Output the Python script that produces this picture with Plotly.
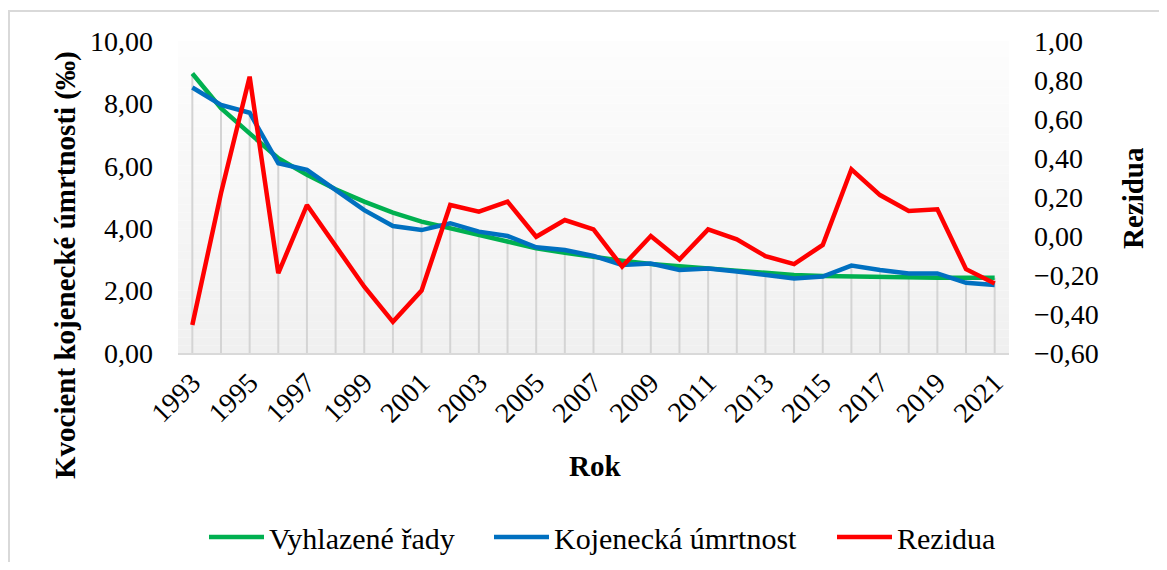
import plotly.graph_objects as go

years = list(range(1993, 2022))
vyhlazene = [8.96, 7.85, 7.04, 6.24, 5.71, 5.25, 4.85, 4.50, 4.21, 4.00, 3.78, 3.57, 3.36, 3.21,
             3.07, 2.96, 2.85, 2.77, 2.71, 2.64, 2.57, 2.50, 2.47, 2.45, 2.43, 2.41, 2.41, 2.41, 2.41]
kojenecka = [8.51, 7.95, 7.70, 6.08, 5.87, 5.22, 4.58, 4.07, 3.94, 4.16, 3.89, 3.75, 3.39, 3.30,
             3.11, 2.82, 2.87, 2.66, 2.71, 2.61, 2.50, 2.39, 2.45, 2.80, 2.66, 2.55, 2.55, 2.25, 2.18]
rezidua = [-0.456, 0.219, 0.817, -0.191, 0.159, -0.046, -0.26, -0.44, -0.28, 0.159, 0.125, 0.176,
           -0.004, 0.082, 0.034, -0.157, 0.0, -0.12, 0.034, -0.017, -0.103, -0.144, -0.046, 0.342,
           0.21, 0.128, 0.137, -0.17, -0.243]
tick_years = list(range(1993, 2022, 2))
tick_labels = [str(y) for y in tick_years]

FONT = "Liberation Serif"
FS = 28
OFF = 8  # page body margin
W, H = 1167 - 2 * OFF, 570 - 2 * OFF
L = 178 - OFF
T = 41 - OFF
R = W - (1009 - OFF)
B = H - (353 - OFF)
PW = W - L - R
PH = H - T - B


def px_x(p):
    return (p - OFF - L) / PW


def px_y(p):
    return (H - B - (p - OFF)) / PH


fig = go.Figure()

# drop lines (from axis up to highest primary-axis series)
dx, dy = [], []
for yr, a, b in zip(years, vyhlazene, kojenecka):
    dx += [yr, yr, None]
    dy += [0, max(a, b), None]
fig.add_trace(go.Scatter(x=dx, y=dy, mode="lines", line=dict(color="#d4d4d4", width=2),
                         showlegend=False, hoverinfo="skip"))

fig.add_trace(go.Scatter(x=years, y=vyhlazene, mode="lines", name="Vyhlazené řady",
                         line=dict(color="#00B050", width=4.5), legend="legend"))
fig.add_trace(go.Scatter(x=years, y=kojenecka, mode="lines", name="Kojenecká úmrtnost",
                         line=dict(color="#0070C0", width=4.5), legend="legend2"))
fig.add_trace(go.Scatter(x=years, y=rezidua, mode="lines", name="Rezidua", yaxis="y2",
                         line=dict(color="#FF0000", width=4.5), legend="legend3"))

# gradient plot background
shapes = []
n = 40
for i in range(n):
    t = i / (n - 1)
    c = round(240 + (253 - 240) * t)
    shapes.append(dict(type="rect", xref="x domain", yref="y domain", x0=0, x1=1,
                       y0=i / n, y1=(i + 1) / n, fillcolor=f"rgb({c},{c},{c})",
                       line=dict(width=0), layer="below"))
# chart border
shapes.append(dict(type="rect", xref="paper", yref="paper", x0=px_x(9), x1=px_x(1180),
                   y0=px_y(585), y1=px_y(11),
                   line=dict(color="#d9d9d9", width=2), fillcolor="rgba(0,0,0,0)", layer="below"))

leg_common = dict(orientation="h", yanchor="middle", xanchor="left", y=px_y(537),
                  font=dict(family=FONT, size=30), bgcolor="rgba(0,0,0,0)", itemwidth=55)

fig.update_layout(
    width=W, height=H,
    margin=dict(l=L, r=R, t=T, b=B, autoexpand=False),
    paper_bgcolor="white", plot_bgcolor="white",
    separators=", ",
    font=dict(family=FONT, size=FS, color="black"),
    shapes=shapes,
    xaxis=dict(range=[1992.5, 2021.5], tickvals=tick_years, ticktext=tick_labels, tickangle=-45,
               showgrid=False, zeroline=False, showline=True, linecolor="#d9d9d9", linewidth=2,
               ticks="", automargin=False, tickfont=dict(family=FONT, size=FS)),
    yaxis=dict(range=[0, 10], dtick=2, tickformat=".2f", showgrid=False, zeroline=False,
               showline=False, ticks="", ticklabelstandoff=24, automargin=False,
               tickfont=dict(family=FONT, size=FS)),
    yaxis2=dict(range=[-0.6, 1.0], dtick=0.2, tickformat=".2f", overlaying="y", side="right",
                showgrid=False, zeroline=False, showline=False, ticks="", ticklabelstandoff=24,
                automargin=False, tickfont=dict(family=FONT, size=FS)),
    legend=dict(x=px_x(204), **leg_common),
    legend2=dict(x=px_x(489), **leg_common),
    legend3=dict(x=px_x(832), **leg_common),
    annotations=[
        dict(text="<b>Kvocient kojenecké úmrtnosti (‰)</b>", xref="paper", yref="paper",
             x=px_x(65), y=px_y(265), textangle=-90, showarrow=False,
             xanchor="center", yanchor="middle", font=dict(family=FONT, size=29)),
        dict(text="<b>Rezidua</b>", xref="paper", yref="paper",
             x=px_x(1133), y=px_y(198), textangle=-90, showarrow=False,
             xanchor="center", yanchor="middle", font=dict(family=FONT, size=29)),
        dict(text="<b>Rok</b>", xref="paper", yref="paper",
             x=px_x(595), y=px_y(466), showarrow=False,
             xanchor="center", yanchor="middle", font=dict(family=FONT, size=29)),
    ],
)

fig.write_html("out.html")
